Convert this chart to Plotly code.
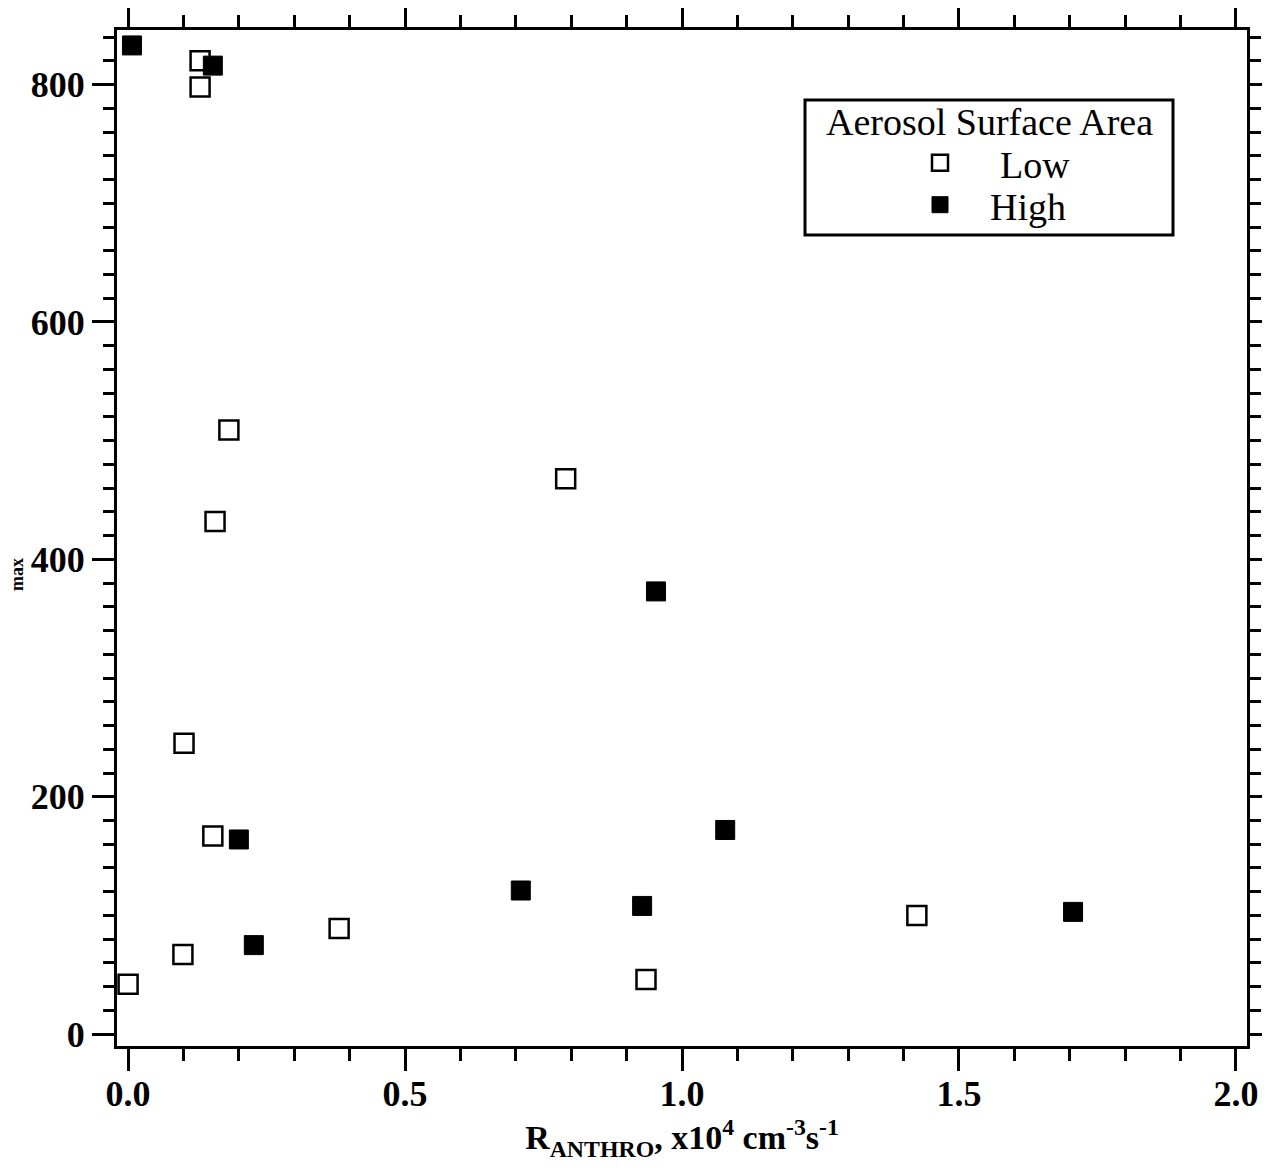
import plotly.graph_objects as go

# Data (x in 10^4 cm^-3 s^-1)
low_x = [0.000, 0.130, 0.130, 0.182, 0.157, 0.790, 0.101, 0.153, 0.099, 0.381, 0.935, 1.424]
low_y = [42, 820, 798, 509, 432, 468, 245, 167, 67, 89, 46, 100]
high_x = [0.007, 0.153, 0.200, 0.227, 0.709, 0.953, 0.928, 1.078, 1.706]
high_y = [833, 816, 164, 75, 121, 373, 108, 172, 103]

x_ticks = [0.0, 0.5, 1.0, 1.5, 2.0]
x_ticklabels = ["0.0", "0.5", "1.0", "1.5", "2.0"]
y_ticks = [0, 200, 400, 600, 800]
y_ticklabels = ["0", "200", "400", "600", "800"]

# The page body adds an 8px offset; work in page pixels and convert.
OFF = 8
W, H = 1270 - OFF, 1168 - OFF
PL, PR, PT, PB = 117, 1247, 30, 1046  # plot area in page pixels
L, T = PL - OFF, PT - OFF
R = W - (PR - OFF)
B = H - (PB - OFF)
pw, ph = PR - PL, PB - PT


def px2x(p):
    return (p - PL) / pw


def px2y(p):
    return (PB - p) / ph


SERIF = "Liberation Serif, Times New Roman, serif"

fig = go.Figure()
fig.add_trace(go.Scatter(
    x=low_x, y=low_y, mode="markers", name="Low", legend="legend",
    marker=dict(symbol="square", size=19, color="white",
                line=dict(color="black", width=2.5)),
))
fig.add_trace(go.Scatter(
    x=high_x, y=high_y, mode="markers", name="High", legend="legend2",
    marker=dict(symbol="square", size=19, color="black",
                line=dict(color="black", width=1)),
))

axis_common = dict(
    showline=True, linecolor="black", linewidth=3,
    ticks="outside", tickcolor="black", tickwidth=3, ticklen=22,
    mirror="allticks", showgrid=False, zeroline=False, automargin=False,
    tickfont=dict(family=SERIF, size=36, color="black", weight="bold"),
)

fig.update_xaxes(
    range=[-0.02, 2.02], tickvals=x_ticks, ticktext=x_ticklabels,
    ticklabelstandoff=-8,
    minor=dict(dtick=0.1, ticks="outside", ticklen=12, tickwidth=3, tickcolor="black"),
    title=dict(text="R<sub>ANTHRO</sub>, x10<sup>4</sup> cm<sup>-3</sup>s<sup>-1</sup>",
               font=dict(family=SERIF, size=34, color="black", weight="bold"),
               standoff=0),
    **axis_common,
)
fig.update_yaxes(
    range=[-10, 846], tickvals=y_ticks, ticktext=y_ticklabels,
    minor=dict(dtick=20, ticks="outside", ticklen=11, tickwidth=3, tickcolor="black"),
    **axis_common,
)

# Legend frame and title
fig.add_shape(type="rect", xref="paper", yref="paper",
              x0=px2x(805), x1=px2x(1173), y0=px2y(235), y1=px2y(100),
              line=dict(color="black", width=3), fillcolor="white", layer="below")
fig.add_annotation(xref="paper", yref="paper", x=px2x(989), y=px2y(122),
                   text="Aerosol Surface Area", showarrow=False,
                   font=dict(family=SERIF, size=38, color="black"),
                   xanchor="center", yanchor="middle")

# Partially visible y-axis label
fig.add_annotation(xref="paper", yref="paper", x=px2x(17), y=px2y(575),
                   text="max", textangle=-90, showarrow=False,
                   font=dict(family=SERIF, size=18, color="black", weight="bold"),
                   xanchor="center", yanchor="middle")

legend_common = dict(bgcolor="rgba(0,0,0,0)", borderwidth=0,
                     font=dict(family=SERIF, size=38, color="black"),
                     itemsizing="trace", xanchor="left", yanchor="middle")

fig.update_layout(
    width=W, height=H,
    margin=dict(l=L, r=R, t=T, b=B, pad=0, autoexpand=False),
    paper_bgcolor="white", plot_bgcolor="white",
    showlegend=True,
    legend=dict(x=px2x(880), y=px2y(163), itemwidth=110, **legend_common),
    legend2=dict(x=px2x(890), y=px2y(205), itemwidth=90, **legend_common),
)

fig.write_html("out.html")
